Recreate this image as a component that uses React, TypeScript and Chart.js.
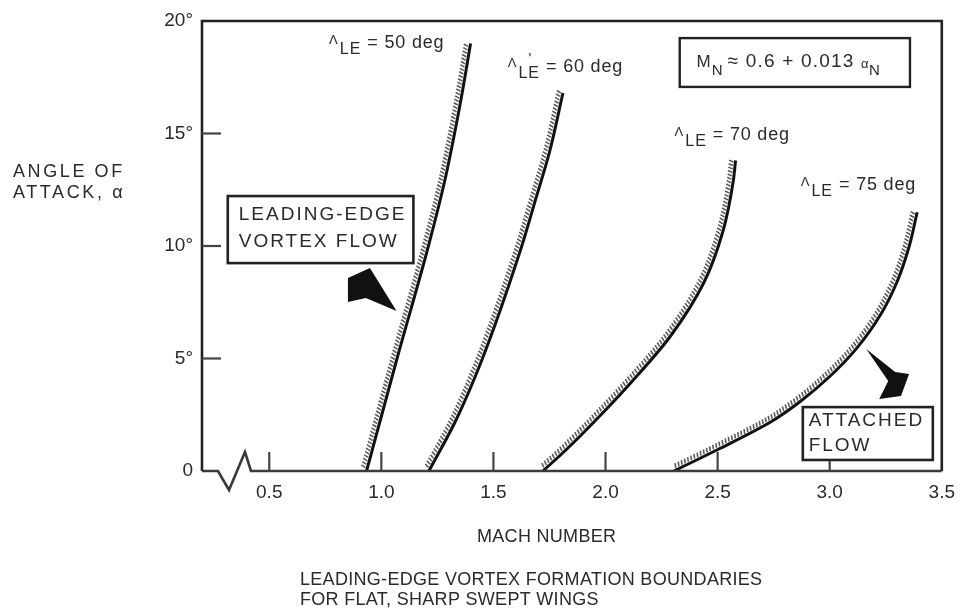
import React, { useEffect, useRef } from 'react';
import { Chart, registerables } from 'chart.js';

Chart.register(...registerables);

// ---- data (Mach number vs angle of attack, deg) ----
const SWEEPS = ['50 deg', '60 deg', '70 deg', '75 deg'];
const MACH_50 = [0.934, 1.07, 1.21, 1.285, 1.355, 1.398];
const ALPHA_50 = [0, 5.0, 10.0, 13.0, 16.5, 19.0];
const MACH_60 = [1.212, 1.33, 1.447, 1.62, 1.686, 1.752, 1.81];
const ALPHA_60 = [0, 2.2, 4.9, 9.8, 12.0, 14.25, 16.8];
const MACH_70 = [1.721, 1.83, 1.97, 2.12, 2.29, 2.44, 2.525, 2.57, 2.58];
const ALPHA_70 = [0, 1.0, 2.4, 4.0, 6.0, 8.4, 10.7, 12.9, 13.8];
const MACH_75 = [2.305, 2.51, 2.74, 2.87, 3.0, 3.12, 3.23, 3.3, 3.355, 3.39];
const ALPHA_75 = [0, 1.0, 2.2, 3.1, 4.2, 5.45, 7.0, 8.4, 10.0, 11.5];
const X_TICKS = [0.5, 1.0, 1.5, 2.0, 2.5, 3.0, 3.5];
const Y_TICKS = [0, 5, 10, 15, 20];
const X_TITLE = 'MACH NUMBER';
const Y_TITLE = ['ANGLE OF', 'ATTACK, α'];
const CAPTION = ['LEADING-EDGE VORTEX FORMATION BOUNDARIES', 'FOR FLAT, SHARP SWEPT WINGS'];

const FONT = '"Liberation Sans", Arial, Helvetica, sans-serif';
const INK = '#2a2a2a';

function txt(ctx: CanvasRenderingContext2D, s: string, x: number, y: number, size: number, spacing = 0, align: CanvasTextAlign = 'left', weight = 'normal') {
  ctx.save();
  ctx.font = `${weight} ${size}px ${FONT}`;
  (ctx as any).letterSpacing = `${spacing}px`;
  ctx.fillStyle = INK;
  ctx.textAlign = align;
  ctx.textBaseline = 'middle';
  ctx.fillText(s, x, y);
  const w = ctx.measureText(s).width;
  ctx.restore();
  return w;
}

const decor = {
  id: 'decor',
  afterDatasetsDraw(chart: any) {
    const { ctx, chartArea: ca, scales } = chart;
    const xs = scales.x, ys = scales.y;
    const X = (m: number) => xs.getPixelForValue(m);
    const Y = (a: number) => ys.getPixelForValue(a);

    // hatching on the vortex side of every boundary curve
    chart.data.datasets.forEach((_: any, i: number) => {
      const meta = chart.getDatasetMeta(i);
      const pts = meta.dataset.points;
      const poly: { x: number; y: number }[] = [];
      for (let k = 0; k < pts.length - 1; k++) {
        const p0 = pts[k], p3 = pts[k + 1];
        const c1x = p0.cp2x ?? p0.x, c1y = p0.cp2y ?? p0.y;
        const c2x = p3.cp1x ?? p3.x, c2y = p3.cp1y ?? p3.y;
        for (let s = 0; s < 40; s++) {
          const t = s / 40, u = 1 - t;
          poly.push({
            x: u * u * u * p0.x + 3 * u * u * t * c1x + 3 * u * t * t * c2x + t * t * t * p3.x,
            y: u * u * u * p0.y + 3 * u * u * t * c1y + 3 * u * t * t * c2y + t * t * t * p3.y,
          });
        }
      }
      poly.push({ x: pts[pts.length - 1].x, y: pts[pts.length - 1].y });
      ctx.save();
      ctx.strokeStyle = '#5a5a5a';
      ctx.lineWidth = 1.6;
      const step = 3.5;
      let next = 3, cum = 0;
      for (let k = 0; k < poly.length - 1; k++) {
        const a = poly[k], b = poly[k + 1];
        const dx = b.x - a.x, dy = b.y - a.y;
        const len = Math.hypot(dx, dy);
        if (len === 0) continue;
        const tx = dx / len, ty = dy / len;
        const nx = ty, ny = -tx;
        while (next <= cum + len) {
          const d = next - cum;
          const px = a.x + tx * d, py = a.y + ty * d;
          ctx.beginPath();
          ctx.moveTo(px + nx * 2, py + ny * 2);
          ctx.lineTo(px + nx * 6.5 + tx * 1.5, py + ny * 6.5 + ty * 1.5);
          ctx.stroke();
          next += step;
        }
        cum += len;
      }
      ctx.restore();
    });

    // frame with axis break
    ctx.save();
    ctx.strokeStyle = '#222';
    ctx.lineWidth = 2.6;
    ctx.beginPath();
    ctx.moveTo(ca.left, ca.bottom);
    ctx.lineTo(ca.left, ca.top);
    ctx.lineTo(ca.right, ca.top);
    ctx.lineTo(ca.right, ca.bottom);
    ctx.stroke();
    ctx.strokeStyle = '#3a3a3a';
    ctx.beginPath();
    ctx.moveTo(ca.left, ca.bottom);
    ctx.lineTo(ca.left + 16, ca.bottom);
    ctx.lineTo(ca.left + 27, ca.bottom + 19);
    ctx.lineTo(ca.left + 43, ca.bottom - 19);
    ctx.lineTo(ca.left + 49, ca.bottom);
    ctx.lineTo(ca.right, ca.bottom);
    ctx.stroke();

    // inward ticks
    ctx.strokeStyle = '#444';
    ctx.lineWidth = 2.2;
    ys.ticks.forEach((t: any) => {
      if (t.value <= ys.min || t.value >= ys.max) return;
      const py = Y(t.value);
      ctx.beginPath();
      ctx.moveTo(ca.left, py);
      ctx.lineTo(ca.left + 19, py);
      ctx.stroke();
    });
    xs.ticks.forEach((t: any) => {
      if (t.value >= xs.max) return;
      const px = X(t.value);
      ctx.beginPath();
      ctx.moveTo(px, ca.bottom);
      ctx.lineTo(px, ca.bottom - 19);
      ctx.stroke();
    });
    ctx.restore();

    // sweep labels
    const labelAt = [
      [0.767, 19.02, false],
      [1.564, 17.96, true],
      [2.308, 14.93, false],
      [2.871, 12.71, false],
    ];
    SWEEPS.forEach((s, i) => {
      const [m, a, prime] = labelAt[i] as [number, number, boolean];
      const x0 = X(m), y0 = Y(a);
      const w1 = txt(ctx, 'Λ', x0, y0 - 3, 13);
      const xl = x0 + w1 + 2;
      const w2 = txt(ctx, 'LE', xl, y0 + 7, 16, 1);
      if (prime) txt(ctx, "'", xl + 10, y0 - 8, 15);
      txt(ctx, '= ' + s, xl + w2 + 6, y0, 18, 0.8);
    });

    // formula box
    ctx.save();
    ctx.strokeStyle = '#222';
    ctx.lineWidth = 2.4;
    const fx1 = X(2.331), fx2 = X(3.358), fy1 = Y(19.24), fy2 = Y(17.07);
    ctx.strokeRect(fx1, fy1, fx2 - fx1, fy2 - fy1);
    ctx.restore();
    {
      let x = X(2.406);
      const y = Y(18.18);
      x += txt(ctx, 'M', x, y, 17, 1);
      x += txt(ctx, 'N', x, y + 9, 15, 1) + 4;
      x += txt(ctx, '≈ 0.6 + 0.013 ', x, y, 19, 1.2);
      x += txt(ctx, 'α', x, y + 2, 13, 0.5);
      txt(ctx, 'N', x, y + 9, 15, 1);
    }

    // region boxes
    const box = (m1: number, a1: number, m2: number, a2: number, lines: string[], mt: number, ya: number[]) => {
      ctx.save();
      ctx.strokeStyle = '#222';
      ctx.lineWidth = 2.6;
      ctx.fillStyle = '#fff';
      const x1 = X(m1), y1 = Y(a1), x2 = X(m2), y2 = Y(a2);
      ctx.fillRect(x1, y1, x2 - x1, y2 - y1);
      ctx.strokeRect(x1, y1, x2 - x1, y2 - y1);
      ctx.restore();
      lines.forEach((l, k) => txt(ctx, l, X(mt), Y(ya[k]), 19, 2));
    };
    box(0.315, 12.22, 1.143, 9.24, ['LEADING-EDGE', 'VORTEX FLOW'], 0.364, [11.38, 10.18]);
    box(2.88, 2.84, 3.46, 0.49, ['ATTACHED', 'FLOW'], 2.906, [2.22, 1.11]);

    // arrows
    const poly = (p: number[][]) => {
      ctx.save();
      ctx.fillStyle = '#111';
      ctx.beginPath();
      p.forEach(([m, a], k) => (k ? ctx.lineTo(X(m), Y(a)) : ctx.moveTo(X(m), Y(a))));
      ctx.closePath();
      ctx.fill();
      ctx.restore();
    };
    poly([[0.851, 8.58], [0.949, 9.02], [1.068, 7.11], [0.931, 7.69], [0.851, 7.51]]);
    poly([[3.163, 5.42], [3.292, 4.4], [3.354, 4.31], [3.318, 3.33], [3.221, 3.2], [3.261, 4.0]]);

    // axis titles and caption
    txt(ctx, Y_TITLE[0], 13, 172, 18, 2.6);
    txt(ctx, Y_TITLE[1], 13, 193, 18, 2.6);
    txt(ctx, X_TITLE, 477, 537, 18, 0.3);
    txt(ctx, CAPTION[0], 300, 580, 18, 0.3);
    txt(ctx, CAPTION[1], 300, 600, 18, 0.3);
  },
};

export default function App() {
  const ref = useRef<HTMLCanvasElement | null>(null);
  useEffect(() => {
    if (!ref.current) return;
    const series = [
      { mach: MACH_50, alpha: ALPHA_50 },
      { mach: MACH_60, alpha: ALPHA_60 },
      { mach: MACH_70, alpha: ALPHA_70 },
      { mach: MACH_75, alpha: ALPHA_75 },
    ];
    const chart = new Chart(ref.current, {
      type: 'scatter',
      data: {
        datasets: series.map((s, i) => ({
          label: 'Λ LE = ' + SWEEPS[i],
          data: s.mach.map((m, k) => ({ x: m, y: s.alpha[k] })),
          showLine: true,
          borderColor: '#111',
          borderWidth: 3,
          pointRadius: 0,
          cubicInterpolationMode: 'monotone' as const,
          fill: false,
        })),
      },
      options: {
        indexAxis: 'y',
        animation: false,
        responsive: false,
        layout: { padding: { top: 21, right: 18, left: 0, bottom: 0 } },
        plugins: { legend: { display: false }, tooltip: { enabled: false } },
        scales: {
          x: {
            type: 'linear',
            min: 0.2,
            max: 3.5,
            afterBuildTicks: (s: any) => { s.ticks = X_TICKS.map((v) => ({ value: v })); },
            afterFit: (s: any) => { s.height = 142; },
            grid: { display: false, drawTicks: false },
            border: { display: false },
            ticks: {
              padding: 10,
              color: INK,
              font: { family: FONT, size: 19 },
              callback: (v: any) => Number(v).toFixed(1),
            },
          },
          y: {
            type: 'linear',
            min: 0,
            max: 20,
            afterBuildTicks: (s: any) => { s.ticks = Y_TICKS.map((v) => ({ value: v })); },
            afterFit: (s: any) => { s.width = 202; },
            grid: { display: false, drawTicks: false },
            border: { display: false },
            ticks: {
              padding: 9,
              color: INK,
              font: { family: FONT, size: 19 },
              callback: (v: any) => (Number(v) === 0 ? '0' : v + '°'),
            },
          },
        },
      } as any,
      plugins: [decor],
    });
    return () => chart.destroy();
  }, []);
  return (
    <div style={{ position: 'fixed', left: 0, top: 0, width: 965, height: 613, background: '#fff' }}>
      <canvas ref={ref} width={965} height={613} style={{ display: 'block' }} />
    </div>
  );
}
